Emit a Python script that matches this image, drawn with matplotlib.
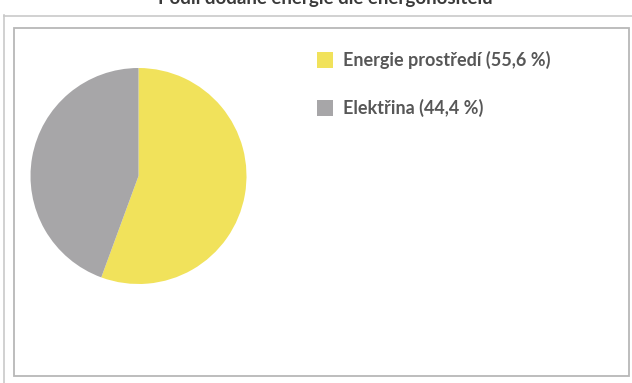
import matplotlib
matplotlib.use("Agg")
import matplotlib.pyplot as plt
from matplotlib.patches import Rectangle

# podíl dodané energie dle energonositelů
labels = ["Energie prostředí", "Elektřina"]
shares = [55.6, 44.4]
colors = ["#F1E25B", "#A7A6A8"]
title = "Podíl dodané energie dle energonositelů"

W, H = 632, 383
fig = plt.figure(figsize=(W / 100, H / 100), dpi=100)
fig.patch.set_facecolor("white")

def fx(px):
    return px / W

def fy(py):
    return 1 - py / H

# outer frame lines and inner chart box
line_col = "#C9C9C9"
fig.add_artist(plt.Line2D([fx(4), fx(4)], [0, fy(15)], color=line_col, lw=1.2))
fig.add_artist(plt.Line2D([fx(4), 1], [fy(15.5), fy(15.5)], color=line_col, lw=1.2))
fig.add_artist(Rectangle((fx(13.5), fy(376)), fx(628.5) - fx(13.5), fy(28) - fy(376),
                         transform=fig.transFigure, fill=False, ec="#B8B8B8", lw=1.3))

# title sits partly above the top edge
fig.text(0.515, fy(-1.5), title, ha="center", va="center", fontsize=13.5,
         fontweight="bold", color="#3A3A3A", family="Lato")

# pie
cx, cy, r = 138.5, 176, 108
ax = fig.add_axes([fx(cx - r), fy(cy + r), 2 * r / W, 2 * r / H])
ax.pie(shares, colors=colors, startangle=90, counterclock=False,
       wedgeprops=dict(linewidth=0))
ax.set_xlim(-1, 1)
ax.set_ylim(-1, 1)
ax.set_aspect("auto")
ax.axis("off")

# legend
leg_y = [60, 108]
for lab, val, col, y in zip(labels, shares, colors, leg_y):
    fig.add_artist(Rectangle((fx(317), fy(y + 8)), 16 / W, 16 / H,
                             transform=fig.transFigure, fc=col, ec="none"))
    txt = f"{lab} ({val:.1f} %)".replace(".", ",")
    fig.text(fx(343), fy(y), txt, ha="left", va="center", fontsize=13,
             fontweight="bold", color="#575757", family="Lato")

fig.savefig("out.png", dpi=100, facecolor="white")
